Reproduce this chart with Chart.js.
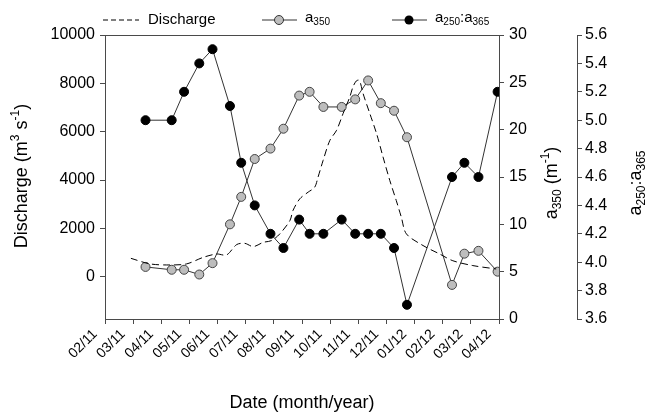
<!DOCTYPE html>
<html>
<head>
<meta charset="utf-8">
<script src="https://cdn.jsdelivr.net/npm/chart.js@4.4.0/dist/chart.umd.min.js"></script>
<style>
html, body { margin: 0; padding: 0; background: #fff; }
#wrap { width: 649px; height: 415px; }
</style>
</head>
<body>
<div id="wrap"><canvas id="myChart" width="649" height="415"></canvas></div>
<script>
// x axis is in months, 0 = 02/11 ... 14 = 04/12
const monthLabels = ['02/11', '03/11', '04/11', '05/11', '06/11', '07/11', '08/11',
    '09/11', '10/11', '11/11', '12/11', '01/12', '02/12', '03/12', '04/12'];

// sampling dates (month units) shared by a350 and a250:a365
const sampleMonths = [1.44, 2.37, 2.81, 3.35, 3.82, 4.44, 4.84, 5.32, 5.88, 6.34, 6.90, 7.27,
    7.76, 8.41, 8.89, 9.35, 9.80, 10.27, 10.73, 12.33, 12.77, 13.27, 13.95];
const a350 = [5.5, 5.2, 5.2, 4.7, 5.9, 10.0, 12.9, 16.9, 18.0, 20.1, 23.6, 24.0,
    22.4, 22.4, 23.2, 25.2, 22.8, 22.0, 19.2, 3.6, 6.9, 7.2, 5.0];
const ratio = [5.0, 5.0, 5.2, 5.4, 5.5, 5.1, 4.7, 4.4, 4.2, 4.1, 4.3, 4.2,
    4.2, 4.3, 4.2, 4.2, 4.2, 4.1, 3.7, 4.6, 4.7, 4.6, 5.2];

// daily discharge trace (month units)
const dischargeMonths = [0.92, 1.60, 2.31, 2.90, 3.49, 3.97, 4.32, 4.68, 4.97, 5.27, 5.62, 5.92,
    6.21, 6.57, 6.68, 6.92, 7.22, 7.45, 7.57, 7.75, 7.99, 8.23, 8.46, 8.70, 8.81, 8.93, 9.03,
    9.08, 9.17, 9.41, 9.65, 9.88, 10.12, 10.35, 10.53, 10.71, 11.30, 11.89, 12.36, 13.07, 13.90];
const discharge = [760, 530, 485, 530, 800, 940, 900, 1330, 1380, 1245, 1420, 1495,
    1770, 2320, 2740, 3220, 3500, 3700, 4120, 4810, 5640, 6060, 6750, 7440, 7850, 8100, 8130,
    8000, 7580, 6750, 5920, 4950, 3980, 3150, 2460, 1770, 1290, 940, 660, 460, 320];

const dischargeTicks = [0, 2000, 4000, 6000, 8000, 10000];
const a350Ticks = [0, 5, 10, 15, 20, 25, 30];
const ratioTicks = [3.6, 3.8, 4.0, 4.2, 4.4, 4.6, 4.8, 5.0, 5.2, 5.4, 5.6];

const FONT = '"Liberation Sans", Arial, sans-serif';
const axisColor = '#4a4a4a';

// text with sub/superscripts, parts = [[text, mode]]
function drawRich(ctx, parts, x, y, size, align) {
    const small = Math.round(size * 0.65);
    let total = 0;
    const widths = parts.map(([t, m]) => {
        ctx.font = (m ? small : size) + 'px ' + FONT;
        const w = ctx.measureText(t).width;
        total += w;
        return w;
    });
    let cx = align === 'left' ? x : x - total / 2;
    ctx.textAlign = 'left';
    ctx.textBaseline = 'middle';
    parts.forEach(([t, m], i) => {
        ctx.font = (m ? small : size) + 'px ' + FONT;
        let dy = 0;
        if (m === 'sub') dy = size * 0.3;
        if (m === 'sup') dy = -size * 0.35;
        ctx.fillText(t, cx, y + dy);
        cx += widths[i];
    });
}

function drawVertical(ctx, parts, x, y, size) {
    ctx.save();
    ctx.translate(x, y);
    ctx.rotate(-Math.PI / 2);
    drawRich(ctx, parts, 0, 0, size, 'center');
    ctx.restore();
}

const extras = {
    id: 'extras',
    afterDraw(chart) {
        const ctx = chart.ctx;
        const area = chart.chartArea;
        ctx.save();
        // top frame line
        ctx.strokeStyle = axisColor;
        ctx.lineWidth = 1;
        ctx.beginPath();
        ctx.moveTo(area.left, area.top + 0.5);
        ctx.lineTo(area.right, area.top + 0.5);
        ctx.stroke();

        ctx.fillStyle = '#000';
        drawVertical(ctx, [['Discharge (m', ''], ['3', 'sup'], [' s', ''], ['-1', 'sup'], [')', '']], 22, 176, 18);
        drawVertical(ctx, [['a', ''], ['350', 'sub'], [' (m', ''], ['-1', 'sup'], [')', '']], 552, 183, 18);
        drawVertical(ctx, [['a', ''], ['250', 'sub'], [':a', ''], ['365', 'sub']], 636, 183, 18);

        // legend
        const ly = 20;
        ctx.strokeStyle = '#000';
        ctx.setLineDash([5, 3]);
        ctx.beginPath();
        ctx.moveTo(103, ly); ctx.lineTo(139, ly);
        ctx.stroke();
        ctx.setLineDash([]);
        drawRich(ctx, [['Discharge', '']], 148, ly, 15, 'left');

        ctx.strokeStyle = '#333';
        ctx.beginPath();
        ctx.moveTo(262, ly); ctx.lineTo(297, ly);
        ctx.stroke();
        ctx.beginPath();
        ctx.arc(279, ly, 4.5, 0, Math.PI * 2);
        ctx.fillStyle = '#bdbdbd';
        ctx.fill();
        ctx.stroke();
        ctx.fillStyle = '#000';
        drawRich(ctx, [['a', ''], ['350', 'sub']], 305, ly - 2, 15, 'left');

        ctx.beginPath();
        ctx.moveTo(392, ly); ctx.lineTo(427, ly);
        ctx.stroke();
        ctx.beginPath();
        ctx.arc(409, ly, 4.5, 0, Math.PI * 2);
        ctx.fillStyle = '#000';
        ctx.fill();
        drawRich(ctx, [['a', ''], ['250', 'sub'], [':a', ''], ['365', 'sub']], 435, ly - 2, 15, 'left');
        ctx.restore();
    }
};

const tickFont = { family: FONT, size: 16 };

const ctx = document.getElementById('myChart').getContext('2d');
const myChart = new Chart(ctx, {
    type: 'line',
    data: {
        datasets: [
            {
                label: 'Discharge',
                data: dischargeMonths.map((m, i) => ({ x: m, y: discharge[i] })),
                yAxisID: 'y',
                borderColor: '#000',
                borderWidth: 1,
                borderDash: [7, 4],
                pointRadius: 0,
                tension: 0.3,
            },
            {
                label: 'a350',
                data: sampleMonths.map((m, i) => ({ x: m, y: a350[i] })),
                yAxisID: 'y1',
                borderColor: '#333',
                borderWidth: 1,
                pointRadius: 4.5,
                pointBackgroundColor: '#bdbdbd',
                pointBorderColor: '#444',
                pointBorderWidth: 1,
            },
            {
                label: 'a250:a365',
                data: sampleMonths.map((m, i) => ({ x: m, y: ratio[i] })),
                yAxisID: 'y2',
                borderColor: '#333',
                borderWidth: 1,
                pointRadius: 4.5,
                pointBackgroundColor: '#000',
                pointBorderColor: '#000',
                pointBorderWidth: 1,
            },
        ],
    },
    plugins: [extras],
    options: {
        responsive: false,
        animation: false,
        devicePixelRatio: 1,
        layout: { padding: { top: 35, left: 0, right: 0, bottom: 0 } },
        plugins: {
            legend: { display: false },
            tooltip: { enabled: false },
        },
        scales: {
            x: {
                type: 'linear',
                min: 0,
                max: 14,
                afterBuildTicks: (s) => { s.ticks = monthLabels.map((_, i) => ({ value: i })); },
                afterFit: (s) => { s.height = 96; },
                ticks: {
                    callback: (v) => monthLabels[v],
                    maxRotation: 45,
                    minRotation: 45,
                    autoSkip: false,
                    font: { family: FONT, size: 14 },
                    color: '#000',
                    padding: 2,
                    labelOffset: -10,
                },
                grid: { drawOnChartArea: false, tickLength: 5, color: axisColor },
                border: { color: axisColor },
                title: {
                    display: true,
                    text: 'Date (month/year)',
                    font: { family: FONT, size: 18 },
                    color: '#000',
                    padding: { top: 0, bottom: 1 },
                },
            },
            y: {
                position: 'left',
                min: -1750,
                max: 10000,
                afterBuildTicks: (s) => { s.ticks = dischargeTicks.map(v => ({ value: v })); },
                afterFit: (s) => { s.width = 105; },
                ticks: { font: tickFont, color: '#000', padding: 5, callback: (v) => String(v) },
                grid: { drawOnChartArea: false, tickLength: 5, color: axisColor },
                border: { color: axisColor },
            },
            y1: {
                position: 'right',
                min: 0,
                max: 30,
                afterBuildTicks: (s) => { s.ticks = a350Ticks.map(v => ({ value: v })); },
                afterFit: (s) => { s.width = 78; },
                ticks: { font: tickFont, color: '#000', padding: 5, callback: (v) => String(v) },
                grid: { drawOnChartArea: false, tickLength: 5, color: axisColor },
                border: { color: axisColor },
            },
            y2: {
                position: 'right',
                min: 3.6,
                max: 5.6,
                afterBuildTicks: (s) => { s.ticks = ratioTicks.map(v => ({ value: v })); },
                afterFit: (s) => { s.width = 72; },
                ticks: {
                    font: tickFont,
                    color: '#000',
                    padding: 3,
                    callback: (v) => v.toFixed(1),
                },
                grid: { drawOnChartArea: false, tickLength: 5, color: axisColor },
                border: { color: axisColor },
            },
        },
    },
});
</script>
</body>
</html>
